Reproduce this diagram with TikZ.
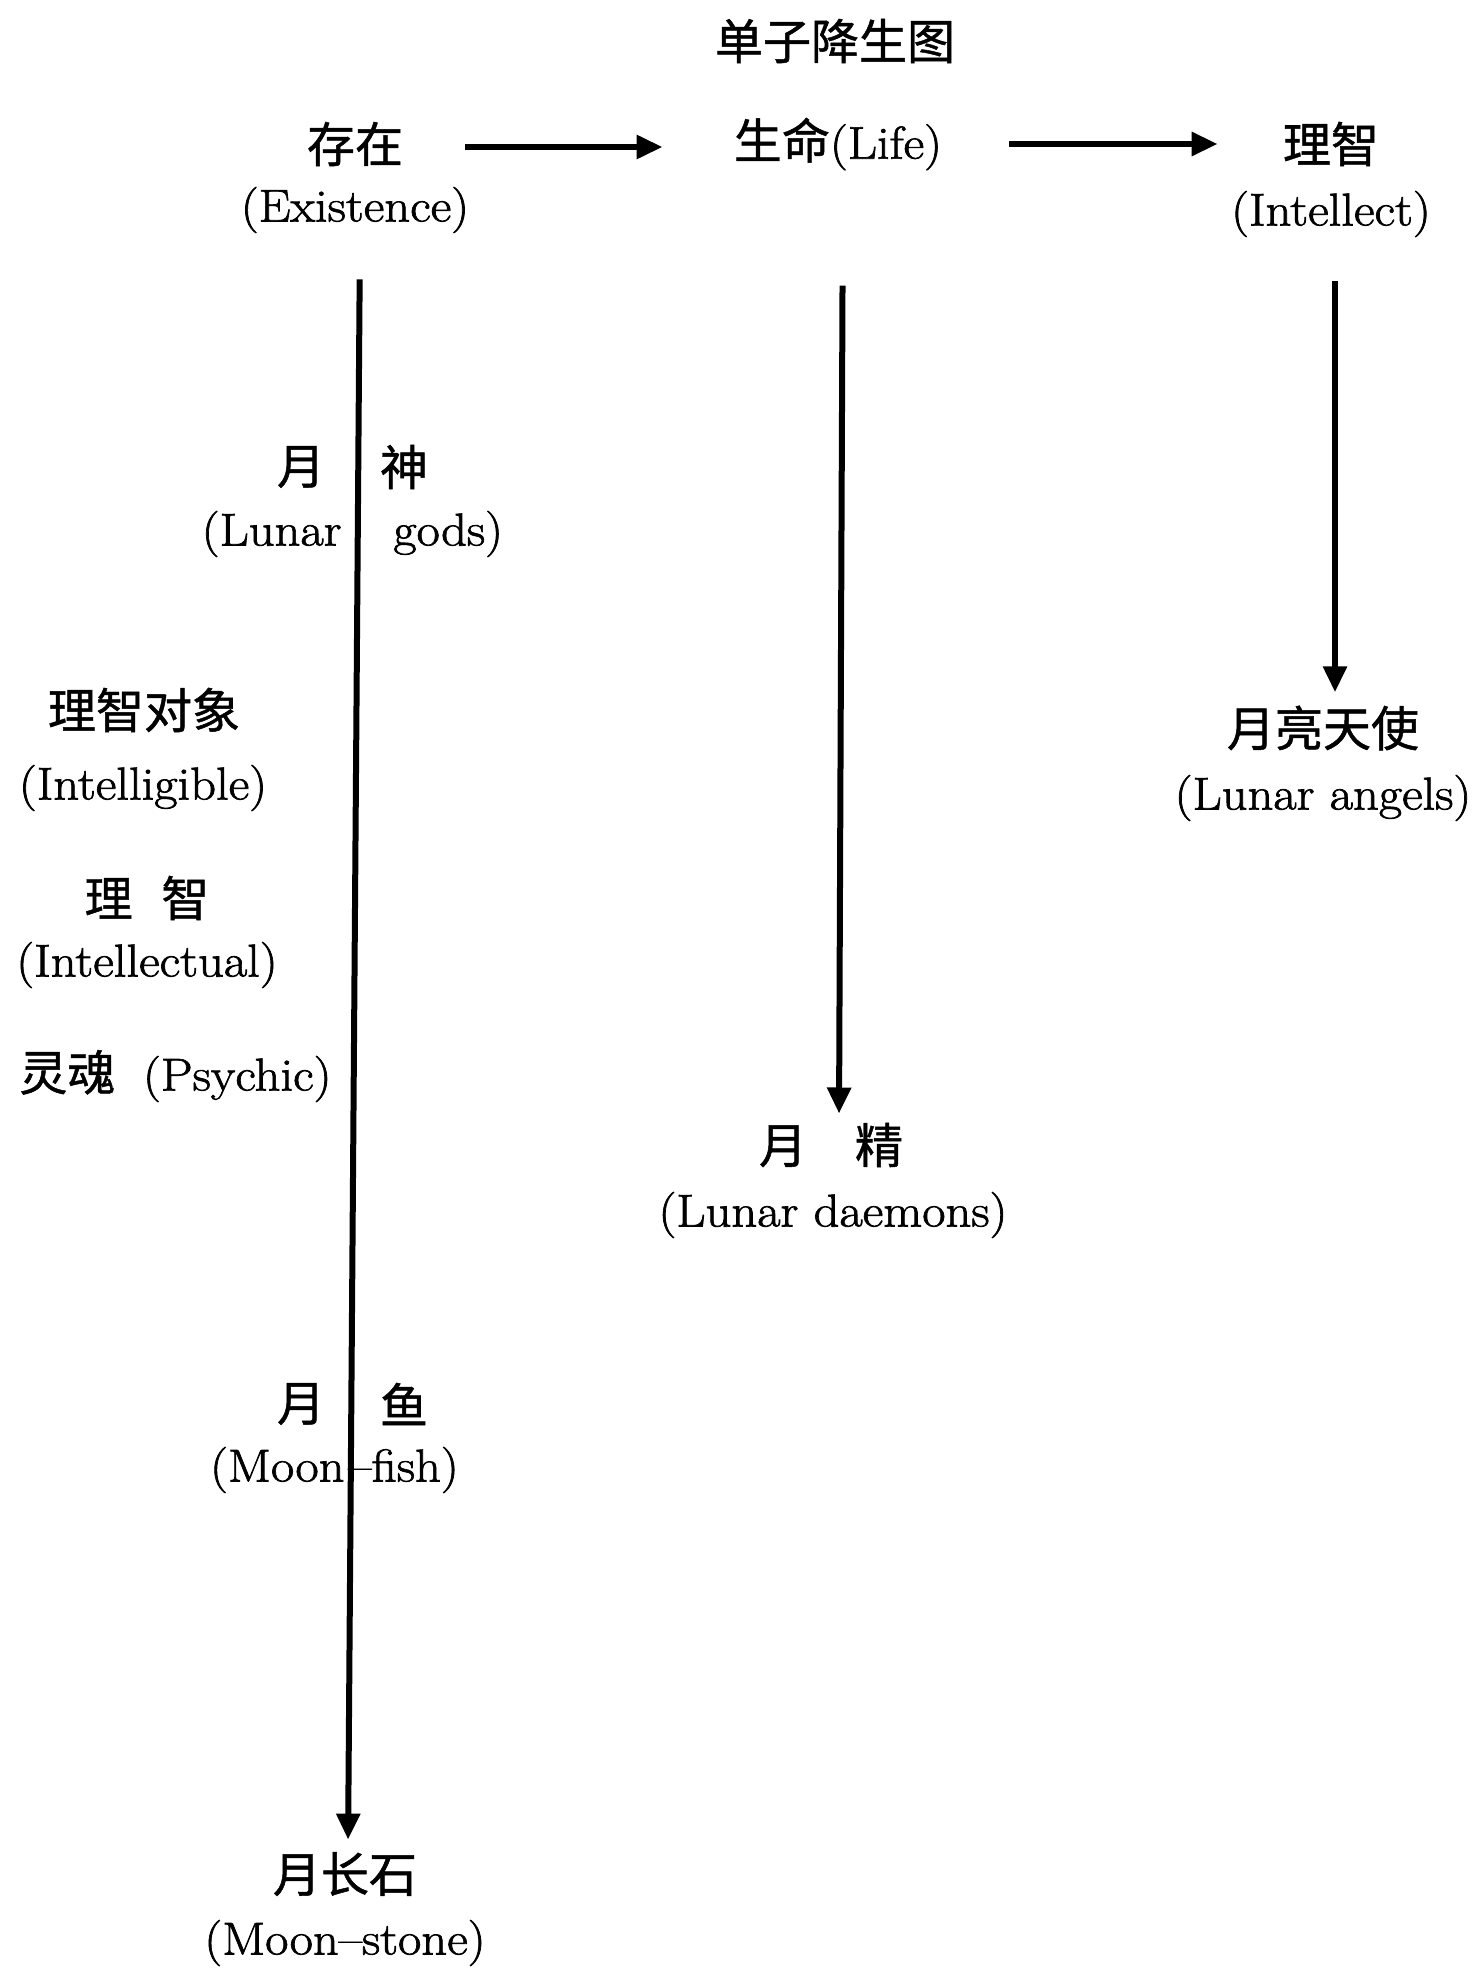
\documentclass[tikz,border=0pt]{standalone}
\usepackage{fontspec}
\setmainfont{Latin Modern Roman}[FakeStretch=1.1, FakeBold=1.5]
\newfontfamily\cjk{Noto Sans CJK SC}[FakeBold=1]
\usetikzlibrary{arrows.meta}
\newcommand\zhtext[1]{{\cjk\fontsize{24}{28}\selectfont #1}}
\begin{document}
\begin{tikzpicture}[x=0.5pt,y=-0.5pt,
  zh/.style={font=\cjk\fontsize{24}{28}\selectfont, inner sep=0pt},
  en/.style={font=\fontsize{23}{28}\selectfont, inner sep=0pt},
  arr/.style={line width=3pt, -{Triangle[length=13pt,width=11.5pt]}}]
\useasboundingbox[fill=white] (0,0) rectangle (1477,1969);

\node[zh] (title) at (835,41) {单子降生图};

\node[zh] (exist) at (355,144) {存在};
\node[en] (existEn) at (355,210) {(Existence)};
\node[en] (life) at (838,144) {\zhtext{生命}(Life)};
\node[zh] (intel) at (1331,144) {理智};
\node[en] (intelEn) at (1331,214) {(Intellect)};

\node[zh] (godsZa) at (301,467) {月};
\node[zh] (godsZb) at (404,467) {神};
\node[en,anchor=east] (godsEa) at (342,534) {(Lunar};
\node[en,anchor=west] (godsEb) at (393,534) {gods)};

\node[zh] (intgZ) at (144,710) {理智对象};
\node[en] (intgE) at (143,788) {(Intelligible)};
\node[zh] (intlZ) at (147,898) {理\hspace{0.6em}智};
\node[en] (intlE) at (147,965) {(Intellectual)};
\node[en,anchor=west] (psy) at (19,1076) {\zhtext{灵魂}\hspace{0.6em}(Psychic)};

\node[zh] (fishZa) at (301,1404) {月};
\node[zh] (fishZb) at (404,1404) {鱼};
\node[en,anchor=east] (fishEa) at (345,1470) {(Moon};
\node[en,anchor=west] (fishEb) at (348,1470) {--fish)};

\node[zh] (stone) at (345,1874) {月长石};
\node[en] (stoneEn) at (345,1943) {(Moon--stone)};

\node[zh] (daem) at (831,1145) {月\quad 精};
\node[en] (daemEn) at (833,1215) {(Lunar daemons)};

\node[zh] (ang) at (1323,728) {月亮天使};
\node[en] (angEn) at (1323,798) {(Lunar angels)};

\draw[arr, shorten <=31pt, shorten >=35.5pt] ([yshift=-1.5pt]exist.east) -- ([yshift=-1.5pt]life.west);
\draw[arr, shorten <=33.5pt, shorten >=32.5pt] (life.east) -- (intel.west);
\draw[arr, shorten <=23pt, shorten >=6pt] ([xshift=2.5pt]existEn.south) -- ([xshift=1.5pt]stone.north);
\draw[arr, shorten <=57.5pt, shorten >=4.5pt] ([xshift=2.5pt]life.south) -- ([xshift=4pt]daem.north);
\draw[arr, shorten <=22pt, shorten >=6.5pt] ([xshift=2pt]intelEn.south) -- ([xshift=6pt]ang.north);
\end{tikzpicture}
\end{document}
